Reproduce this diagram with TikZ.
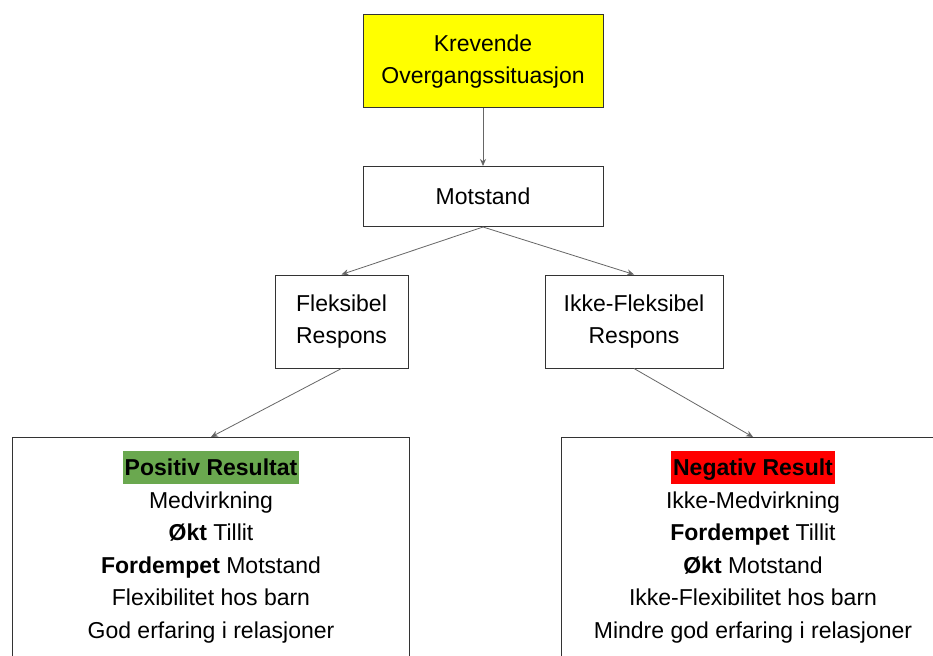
\documentclass[tikz,border=0pt]{standalone}
\usepackage{fontspec}
\setmainfont{Liberation Sans}
\usetikzlibrary{arrows.meta}
\definecolor{hlgreen}{HTML}{6AA84F}
\definecolor{hlred}{HTML}{FF0000}
\definecolor{boxyellow}{HTML}{FFFF00}
\newcommand{\hilite}[2]{{\setlength{\fboxsep}{0pt}\colorbox{#1}{\rule[-8pt]{0pt}{33pt}\hspace{2pt}\textbf{#2}\hspace{2pt}}}}

\begin{document}
\begin{tikzpicture}[x=1pt, y=-1pt,
        box/.style={draw=black!80, line width=1pt, inner sep=0pt, align=center,
            font=\fontsize{23}{32}\selectfont},
        result/.style={box, anchor=north, inner ysep=13pt, text depth=220pt,
            font=\fontsize{23}{32.5}\selectfont},
        arr/.style={-{Stealth[length=7pt,width=6pt]}, draw=black!60, line width=0.8pt}]
        \useasboundingbox[fill=white] (0,0) rectangle (933,655);

        % Situation and resistance
        \node[box, fill=boxyellow, minimum width=240pt, minimum height=93pt] (krevende) at (483,61.5) {Krevende\\Overgangssituasjon};
        \node[box, minimum width=240pt, minimum height=60pt] (motstand) at (483,196.5) {Motstand};

        % Responses
        \node[box, minimum width=133pt, minimum height=93pt] (fleks) at (341.5,321.5) {Fleksibel\\Respons};
        \node[box, minimum width=178pt, minimum height=93pt] (ikke) at (634,321.5) {Ikke-Fleksibel\\Respons};

        % Results
        \node[result, minimum width=397pt] (positiv) at (211,437) {\hilite{hlgreen}{Positiv Resultat}\\Medvirkning\\\textbf{Økt} Tillit\\\textbf{Fordempet} Motstand\\Flexibilitet hos barn\\God erfaring i relasjoner};
        \node[result, minimum width=383pt] (negativ) at (753,437) {\hilite{hlred}{Negativ Result}\\Ikke-Medvirkning\\\textbf{Fordempet} Tillit\\\textbf{Økt} Motstand\\Ikke-Flexibilitet hos barn\\Mindre god erfaring i relasjoner};

        % Arrows
        \foreach \a/\b in {krevende/motstand, motstand/fleks, motstand/ikke, fleks/positiv, ikke/negativ} {
            \draw[arr] (\a.south) -- (\b.north);
        }
    \end{tikzpicture}
\end{document}
